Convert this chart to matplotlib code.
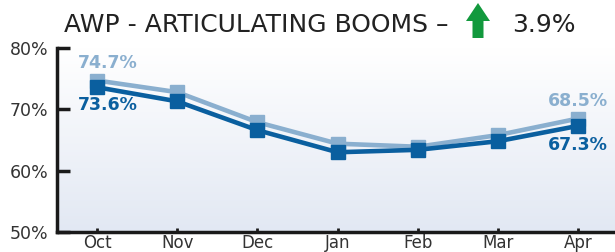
import numpy as np
import matplotlib
matplotlib.use("Agg")
import matplotlib.pyplot as plt
from matplotlib.colors import LinearSegmentedColormap
from matplotlib.patches import Polygon

plt.rcParams["font.family"] = ["DejaVu Sans"]

months = ["Oct", "Nov", "Dec", "Jan", "Feb", "Mar", "Apr"]
prior = [74.7, 72.8, 67.9, 64.4, 63.9, 65.8, 68.5]
current = [73.6, 71.3, 66.6, 63.0, 63.4, 64.8, 67.3]
yticks = [50, 60, 70, 80]
title_text = "AWP - ARTICULATING BOOMS \u2013"
change_text = "3.9%"

light = "#8aafcf"
dark = "#0a5f9f"

W, H = 615, 252
fig = plt.figure(figsize=(W / 100, H / 100), dpi=100)
ax = fig.add_axes([57 / W, 20 / H, 1 - 57 / W, 184 / H])

x = np.arange(len(months))
x0, x1 = -0.5, 6.46
ax.set_xlim(x0, x1)
ax.set_ylim(50, 80)

# gradient background (white at top -> pale blue at bottom)
grad = np.linspace(0, 1, 256).reshape(-1, 1)
cmap = LinearSegmentedColormap.from_list("bg", ["#ffffff", "#e2e8f3"])
ax.imshow(grad, aspect="auto", cmap=cmap, extent=[x0, x1, 50, 80],
          origin="upper", zorder=0)

ax.plot(x, prior, color=light, lw=3.3, marker="s", ms=9.5, zorder=3)
ax.plot(x, current, color=dark, lw=3.3, marker="s", ms=9.5, zorder=4)

lab_kw = dict(fontsize=12.5, fontweight="bold", ha="center", va="center",
              textcoords="offset points")
ax.annotate(f"{prior[0]}%", (x[0], prior[0]), xytext=(8, 12.5), color=light, **lab_kw)
ax.annotate(f"{current[0]}%", (x[0], current[0]), xytext=(8, -13), color=dark, **lab_kw)
ax.annotate(f"{prior[-1]}%", (x[-1], prior[-1]), xytext=(0, 12.5), color=light, **lab_kw)
ax.annotate(f"{current[-1]}%", (x[-1], current[-1]), xytext=(0, -14), color=dark, **lab_kw)

ax.set_xticks(x)
ax.set_xticklabels(months)
ax.set_yticks(yticks)
ax.set_yticklabels([f"{v}%" for v in yticks])
ax.tick_params(axis="y", direction="in", length=9, width=2.5, labelsize=12.5,
               labelcolor="#333333", pad=6, color="#1a1a1a")
ax.tick_params(axis="x", direction="in", length=3, width=2, labelsize=12,
               labelcolor="#333333", pad=1.5, color="#1a1a1a")
for s in ["top", "right"]:
    ax.spines[s].set_visible(False)
for s in ["left", "bottom"]:
    ax.spines[s].set_linewidth(2.5)
    ax.spines[s].set_color("#1a1a1a")
    ax.spines[s].set_zorder(5)

# title pieces
base_y = 1 - 31.5 / H
fig.text(64 / W, base_y, title_text, ha="left", va="baseline", fontsize=18,
         color="#222222")
fig.text(512 / W, base_y, change_text, ha="left", va="baseline", fontsize=18,
         color="#222222")
# green up arrow
arrow_px = [(466, 21), (478, 3), (490, 21), (483.5, 21), (483.5, 38),
            (472.5, 38), (472.5, 21)]
pts = [(px / W, 1 - py / H) for px, py in arrow_px]
fig.patches.append(Polygon(pts, closed=True, transform=fig.transFigure,
                           facecolor="#12993d", edgecolor="none"))

fig.savefig("out.png", dpi=100)
